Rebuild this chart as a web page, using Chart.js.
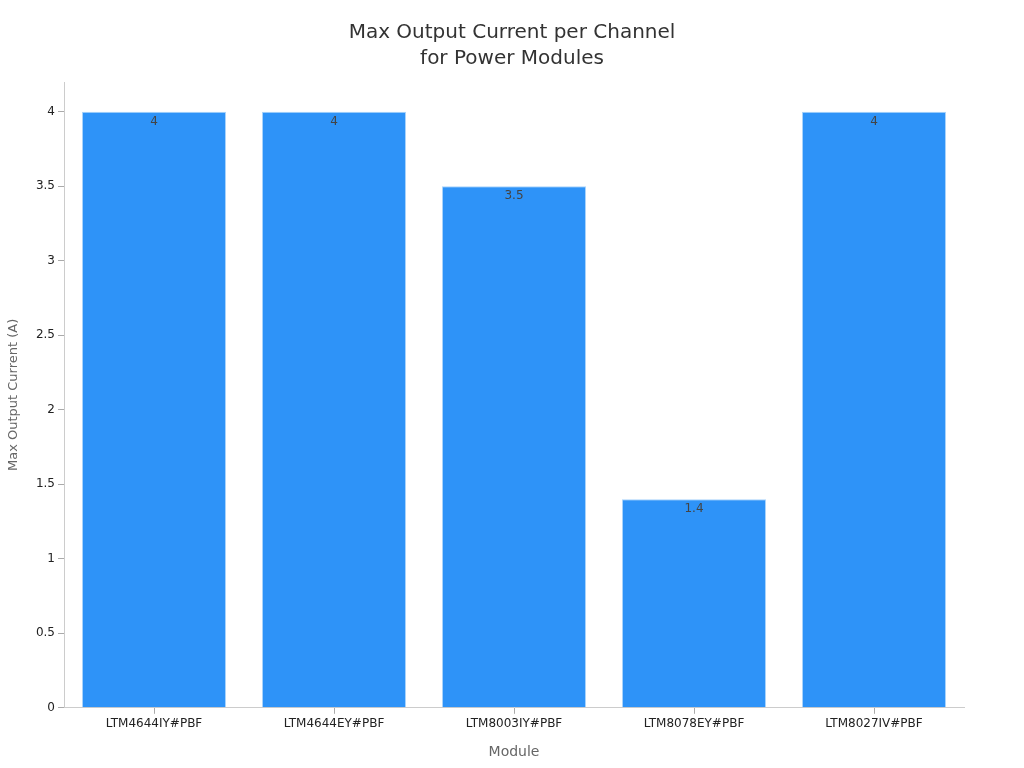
<!DOCTYPE html>
<html><head><meta charset="utf-8">
<script src="https://cdn.jsdelivr.net/npm/chart.js@4/dist/chart.umd.min.js"></script>
<style>html,body{margin:0;padding:0;background:#fff}#w{width:1024px;height:768px}</style>
</head><body><div id="w"><canvas id="c" width="1024" height="768"></canvas></div>
<script>
const categories = ["LTM4644IY#PBF","LTM4644EY#PBF","LTM8003IY#PBF","LTM8078EY#PBF","LTM8027IV#PBF"];
const currents = [4, 4, 3.5, 1.4, 4];
const yTicks = [0, 0.5, 1, 1.5, 2, 2.5, 3, 3.5, 4];

const labelPlugin = {
  id: 'vals',
  afterDatasetsDraw(chart) {
    const ctx = chart.ctx;
    const meta = chart.getDatasetMeta(0);
    ctx.save();
    ctx.font = '12px "DejaVu Sans"';
    ctx.fillStyle = '#444';
    ctx.textAlign = 'center';
    ctx.textBaseline = 'top';
    meta.data.forEach((bar, i) => {
      ctx.fillText(String(currents[i]), bar.x, bar.y + 4);
    });
    ctx.restore();
  }
};

Chart.defaults.font.family = '"DejaVu Sans"';
new Chart(document.getElementById('c'), {
  type: 'bar',
  data: {
    labels: categories,
    datasets: [{
      data: currents,
      backgroundColor: '#2e93f8',
      borderColor: '#a9d3fb',
      borderWidth: 1,
      categoryPercentage: 0.8,
      barPercentage: 1.0,
      yAxisID: 'y'
    }]
  },
  options: {
    responsive: false,
    animation: false,
    layout: { padding: { left: 0, right: 0, top: 0, bottom: 6 } },
    plugins: {
      legend: { display: false },
      tooltip: { enabled: false },
      title: {
        display: true,
        text: ['Max Output Current per Channel', 'for Power Modules'],
        font: { size: 20, weight: 'normal', lineHeight: 1.3 },
        color: '#333',
        padding: { top: 20, bottom: 10 }
      }
    },
    scales: {
      x: {
        grid: { display: true, offset: false, drawOnChartArea: false, drawTicks: true, tickLength: 6, color: '#aaa' },
        border: { color: '#ccc' },
        ticks: { color: '#222', font: { size: 12 }, padding: 3 },
        title: { display: true, text: 'Module', color: '#666', font: { size: 14 }, padding: { top: 10, bottom: 1 } }
      },
      y: {
        min: 0, max: 4.2,
        afterBuildTicks(axis) { axis.ticks = yTicks.map(v => ({ value: v })); },
        afterFit(axis) { axis.width = 64; },
        grid: { display: true, drawOnChartArea: false, drawTicks: true, tickLength: 6, color: '#aaa' },
        border: { color: '#ccc' },
        ticks: { color: '#222', font: { size: 12 }, padding: 3, callback: v => String(v) },
        title: { display: true, text: 'Max Output Current (A)', color: '#666', font: { size: 13 }, padding: { top: 6, bottom: 4 } }
      },
      y2: {
        position: 'right',
        display: true,
        afterFit(axis) { axis.width = 60; },
        grid: { display: false },
        border: { display: false },
        ticks: { display: false }
      }
    }
  },
  plugins: [labelPlugin]
});
</script></body></html>
